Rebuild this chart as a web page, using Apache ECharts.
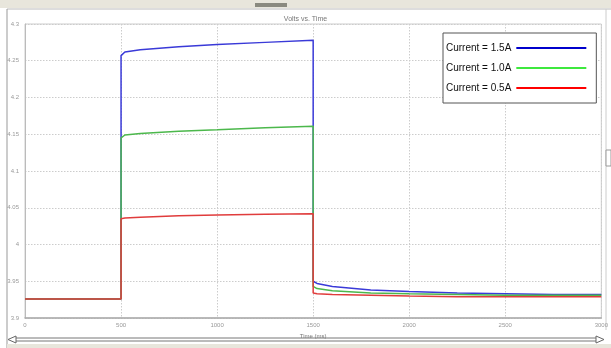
<!DOCTYPE html>
<html><head><meta charset="utf-8">
<script src="https://cdn.jsdelivr.net/npm/echarts@6/dist/echarts.min.js"></script>
<style>html,body{margin:0;padding:0;background:#fff}#c{width:611px;height:348px}</style>
</head><body><div id="c"></div>
<script>
const seriesNames = ['Current = 1.5A', 'Current = 1.0A', 'Current = 0.5A'];
const timeMs = [0, 500, 500, 520, 600, 800, 1000, 1250, 1500, 1500, 1520, 1600, 1800, 2000, 2250, 2500, 2750, 3000];
const volts15 = [3.926, 3.926, 4.257, 4.262, 4.265, 4.269, 4.272, 4.275, 4.278, 3.950, 3.947, 3.943, 3.938, 3.936, 3.934, 3.933, 3.932, 3.932];
const volts10 = [3.926, 3.926, 4.145, 4.149, 4.151, 4.154, 4.156, 4.159, 4.161, 3.943, 3.940, 3.937, 3.934, 3.933, 3.932, 3.931, 3.931, 3.931];
const volts05 = [3.926, 3.926, 4.035, 4.036, 4.037, 4.039, 4.040, 4.041, 4.042, 3.934, 3.933, 3.932, 3.931, 3.930, 3.929, 3.929, 3.929, 3.929];
const xTicks = [0, 500, 1000, 1500, 2000, 2500, 3000];
const yTicks = [3.9, 3.95, 4, 4.05, 4.1, 4.15, 4.2, 4.25, 4.3];

const lineColors = ['#3a3ad8', '#4cb84c', '#e03c3c'];
const legendColors = ['#0000cc', '#3ee83e', '#ff0000'];
const valueSets = [volts15, volts10, volts05];

const chart = echarts.init(document.getElementById('c'));
const series = valueSets.map((vals, i) => ({
  name: seriesNames[i],
  type: 'line',
  showSymbol: false,
  symbol: 'none',
  smooth: false,
  data: timeMs.map((t, k) => [t, vals[k]]),
  lineStyle: { color: lineColors[i], width: 1.5 },
  itemStyle: { color: lineColors[i] },
  z: 3 + i,
  animation: false
}));

chart.setOption({
  animation: false,
  backgroundColor: '#ffffff',
  title: {
    text: 'Volts vs. Time',
    left: 'center', top: 11,
    textStyle: { fontSize: 7, fontWeight: 'normal', color: '#777', fontFamily: 'Liberation Sans' }
  },
  legend: {
    orient: 'vertical',
    left: 443, top: 33,
    width: 154,
    align: 'right',
    icon: 'rect',
    itemWidth: 70, itemHeight: 2,
    itemGap: 10,
    padding: [10, 10, 10, 3],
    backgroundColor: '#fff',
    borderColor: '#555', borderWidth: 1,
    textStyle: { fontSize: 10, color: '#111', fontFamily: 'Liberation Sans', padding: [0, 0, 0, 0] },
    data: seriesNames.map((n, i) => ({ name: n, itemStyle: { color: legendColors[i] } }))
  },
  grid: { left: 25, right: 8, top: 24, bottom: 30, containLabel: false, show: true, borderColor: '#ccc', borderWidth: 1 },
  xAxis: {
    type: 'value', min: xTicks[0], max: xTicks[xTicks.length - 1], interval: 500,
    name: 'Time (ms)', nameLocation: 'middle', nameGap: 11,
    nameTextStyle: { fontSize: 6, color: '#777', fontFamily: 'Liberation Sans' },
    axisLine: { lineStyle: { color: '#aaa', width: 1.5 } },
    axisTick: { show: false },
    axisLabel: { fontSize: 6, color: '#999', margin: 4, fontFamily: 'Liberation Sans', formatter: v => String(v) },
    splitLine: { show: true, lineStyle: { color: '#ccc', type: [1.5, 1.5] } }
  },
  yAxis: {
    type: 'value', min: yTicks[0], max: yTicks[yTicks.length - 1], interval: 0.05,
    axisLine: { show: true, lineStyle: { color: '#bbb' } },
    axisTick: { show: false },
    axisLabel: { fontSize: 6, color: '#999', margin: 6, fontFamily: 'Liberation Sans', formatter: v => String(+v.toFixed(2)) },
    splitLine: { show: true, lineStyle: { color: '#ccc', type: [1.5, 1.5] } }
  },
  graphic: [
    { type: 'rect', shape: { x: 0, y: 0, width: 611, height: 8 }, style: { fill: '#e8e6dc' }, silent: true },
    { type: 'rect', shape: { x: 255, y: 3, width: 32, height: 4 }, style: { fill: '#8a8a80' }, silent: true },
    { type: 'line', shape: { x1: 7, y1: 9, x2: 611, y2: 9 }, style: { stroke: '#bbb', lineWidth: 1 }, silent: true },
    { type: 'line', shape: { x1: 7, y1: 9, x2: 7, y2: 348 }, style: { stroke: '#999', lineWidth: 1 }, silent: true },
    { type: 'line', shape: { x1: 606, y1: 9, x2: 606, y2: 330 }, style: { stroke: '#ccc', lineWidth: 1 }, silent: true },
    { type: 'rect', shape: { x: 606, y: 150, width: 5, height: 16 }, style: { fill: '#fff', stroke: '#999', lineWidth: 1 }, silent: true },
    { type: 'rect', shape: { x: 7, y: 344, width: 604, height: 4 }, style: { fill: '#e8e6dc' }, silent: true },
    { type: 'line', shape: { x1: 14, y1: 338, x2: 598, y2: 338 }, style: { stroke: '#777', lineWidth: 1 }, silent: true },
    { type: 'line', shape: { x1: 14, y1: 341, x2: 598, y2: 341 }, style: { stroke: '#777', lineWidth: 1 }, silent: true },
    { type: 'polygon', shape: { points: [[8, 339.5], [16, 336], [16, 343]] }, style: { fill: '#fff', stroke: '#666', lineWidth: 1 }, silent: true },
    { type: 'polygon', shape: { points: [[604, 339.5], [596, 336], [596, 343]] }, style: { fill: '#fff', stroke: '#666', lineWidth: 1 }, silent: true }
  ],
  series: series
});
</script></body></html>
